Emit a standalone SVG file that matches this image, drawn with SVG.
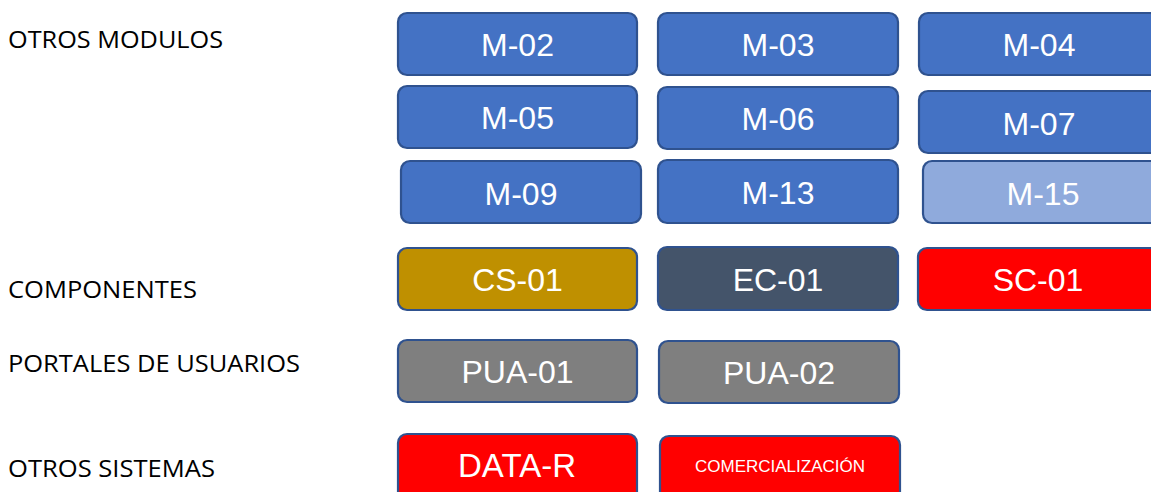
<svg xmlns="http://www.w3.org/2000/svg" width="1151" height="492" viewBox="0 0 1151 492">
<style>
.lbl{font-family:"Open Sans","Lato",sans-serif;font-size:23px;fill:#000}
.box{stroke:#2F528F;stroke-width:2.2}
.t{font-family:"Liberation Sans",Arial,sans-serif;font-size:32px;fill:#fff;text-anchor:middle}
.blue{fill:#4472C4}.light{fill:#8FAADC}.gold{fill:#BF9000}.slate{fill:#44546A}.gray{fill:#7F7F7F}.red{fill:#FF0000}
</style>
<rect width="1151" height="492" fill="#fff"/>
<g id="labels">
<text class="lbl" x="8" y="48" textLength="215" lengthAdjust="spacingAndGlyphs">OTROS MODULOS</text>
<text class="lbl" x="8" y="298" textLength="189" lengthAdjust="spacingAndGlyphs">COMPONENTES</text>
<text class="lbl" x="8" y="372" textLength="292" lengthAdjust="spacingAndGlyphs">PORTALES DE USUARIOS</text>
<text class="lbl" x="8" y="477" textLength="207" lengthAdjust="spacingAndGlyphs">OTROS SISTEMAS</text>
</g>
<g id="m02"><rect class="box blue" x="398" y="13" width="239" height="62" rx="9"/><text class="t" x="517.5" y="56">M-02</text></g>
<g id="m03"><rect class="box blue" x="658" y="13" width="240" height="62" rx="9"/><text class="t" x="778" y="56">M-03</text></g>
<g id="m04"><rect class="box blue" x="919" y="13" width="240" height="62" rx="9"/><text class="t" x="1039" y="56">M-04</text></g>
<g id="m05"><rect class="box blue" x="398" y="86" width="239" height="62" rx="9"/><text class="t" x="517.5" y="129">M-05</text></g>
<g id="m06"><rect class="box blue" x="658" y="87" width="240" height="62" rx="9"/><text class="t" x="778" y="130">M-06</text></g>
<g id="m07"><rect class="box blue" x="919" y="91" width="240" height="62" rx="9"/><text class="t" x="1039" y="135">M-07</text></g>
<g id="m09"><rect class="box blue" x="401" y="161" width="240" height="62" rx="9"/><text class="t" x="521" y="205">M-09</text></g>
<g id="m13"><rect class="box blue" x="658" y="160" width="240" height="63" rx="9"/><text class="t" x="778" y="204">M-13</text></g>
<g id="m15"><rect class="box light" x="923" y="161" width="240" height="62" rx="9"/><text class="t" x="1043" y="205">M-15</text></g>
<g id="cs01"><rect class="box gold" x="398" y="248" width="239" height="62" rx="9"/><text class="t" x="517.5" y="291">CS-01</text></g>
<g id="ec01"><rect class="box slate" x="658" y="247" width="240" height="63" rx="9"/><text class="t" x="778" y="291">EC-01</text></g>
<g id="sc01"><rect class="box red" x="918" y="248" width="240" height="62" rx="9"/><text class="t" x="1038" y="291">SC-01</text></g>
<g id="pua01"><rect class="box gray" x="398" y="340" width="239" height="62" rx="9"/><text class="t" x="517.5" y="383">PUA-01</text></g>
<g id="pua02"><rect class="box gray" x="659" y="341" width="240" height="62" rx="9"/><text class="t" x="779" y="384">PUA-02</text></g>
<g id="datar"><rect class="box red" x="398" y="434" width="239" height="70" rx="9"/><text class="t" x="517" y="477" style="font-size:33px">DATA-R</text></g>
<g id="comercializacion"><rect class="box red" x="660" y="436" width="240" height="70" rx="9"/><text class="t" x="780" y="472" style="font-size:17px">COMERCIALIZACIÓN</text></g>
<g id="connectors"></g>
</svg>
